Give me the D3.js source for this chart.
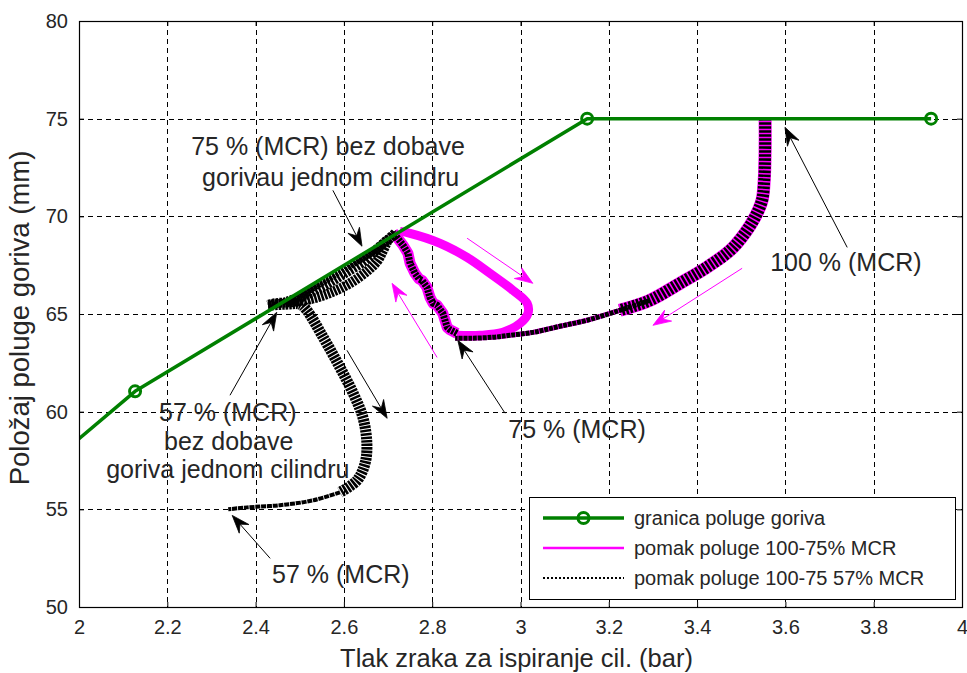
<!DOCTYPE html>
<html><head><meta charset="utf-8">
<script src="https://cdn.jsdelivr.net/npm/d3@7"></script>
<style>
body{margin:0;background:#fff}
svg{display:block}
text{font-family:"Liberation Sans",Arial,Helvetica,sans-serif}
</style>
</head><body>
<svg id="chart" width="967" height="673"></svg>
<script>
// ---------------- DATA ----------------
const xTicks = [2, 2.2, 2.4, 2.6, 2.8, 3, 3.2, 3.4, 3.6, 3.8, 4];
const xTickLabels = ["2","2.2","2.4","2.6","2.8","3","3.2","3.4","3.6","3.8","4"];
const yTicks = [50, 55, 60, 65, 70, 75, 80];
const yTickLabels = ["50","55","60","65","70","75","80"];

// fuel lever limit (green)
const limitX = [1.9, 2.127, 3.151, 3.93];
const limitY = [56.7, 61.04, 75.0, 75.0];

// 100% -> 75% MCR (shared black/magenta), upper part
const curveA1X = [3.554, 3.554, 3.552, 3.547, 3.531, 3.508, 3.475, 3.422, 3.361, 3.293, 3.225];
const curveA1Y = [75.02, 73.38, 71.84, 70.82, 69.95, 69.13, 68.26, 67.39, 66.57, 65.70, 65.19];
// lower part, to 75% point
const curveA2X = [3.293, 3.225, 3.151, 3.089, 3.028, 2.976, 2.938, 2.886, 2.852];
const curveA2Y = [65.70, 65.19, 64.68, 64.37, 64.06, 63.91, 63.81, 63.76, 63.76];

// jagged rise from 75% point to peak
const jaggedX = [2.856, 2.840, 2.834, 2.824, 2.811, 2.802, 2.795, 2.788, 2.777, 2.770, 2.761, 2.750, 2.745, 2.734, 2.720, 2.711];
const jaggedY = [64.01, 64.20, 64.32, 65.04, 65.45, 65.55, 65.85, 66.37, 66.72, 66.80, 67.08, 67.59, 68.11, 68.52, 68.93, 69.18];

// magenta loop (peak -> apex -> back to 75%)
const loopX = [2.727, 2.750, 2.818, 2.879, 2.931, 2.983, 3.015, 3.017, 2.999, 2.960, 2.908, 2.856];
const loopY = [69.23, 69.13, 68.62, 67.90, 67.08, 66.21, 65.55, 65.04, 64.52, 64.06, 63.91, 63.91];

// black crescent (peak -> 57% without fuel to one cylinder)
const band1X = [2.716, 2.700, 2.689, 2.677, 2.655, 2.614, 2.569, 2.523, 2.478, 2.444, 2.428];
const band1Y = [69.13, 68.77, 68.26, 67.75, 67.24, 66.58, 66.08, 65.75, 65.60, 65.55, 65.45];
const band2X = [2.716, 2.690, 2.670, 2.625, 2.591, 2.546, 2.501, 2.467];
const band2Y = [69.10, 68.72, 68.24, 67.63, 67.16, 66.55, 65.93, 65.50];
const band3X = [2.716, 2.682, 2.648, 2.602, 2.557, 2.512, 2.467];
const band3Y = [69.10, 68.47, 67.75, 67.08, 66.47, 65.96, 65.60];

// 57% descent
const c57X = [2.428, 2.467, 2.501, 2.516, 2.553, 2.591, 2.621, 2.643, 2.652, 2.648, 2.630, 2.591];
const c57Y = [65.45, 65.50, 65.50, 65.19, 63.81, 62.27, 60.94, 59.71, 58.38, 57.36, 56.49, 55.87];
const tail57X = [2.591, 2.530, 2.455, 2.381, 2.338];
const tail57Y = [55.87, 55.46, 55.21, 55.10, 55.00];

// annotation arrows [x0,y0,x1(tip),y1(tip)]
const blackArrows = [
  [2.575, 71.33, 2.641, 68.47],
  [3.740, 68.41, 3.599, 74.56],
  [2.965, 59.92, 2.858, 63.65],
  [2.342, 60.84, 2.448, 65.09],
  [2.607, 63.14, 2.698, 59.66],
  [2.433, 52.49, 2.347, 54.69]
];
const magentaArrows = [
  [2.879, 68.88, 3.028, 66.57],
  [2.811, 62.78, 2.709, 66.57],
  [3.502, 67.34, 3.300, 64.42]
];

// annotation texts [x, y(baseline), text]
const notes = [
  [2.564, 73.12, "75 % (MCR) bez dobave"],
  [2.570, 71.54, "gorivau jednom cilindru"],
  [3.737, 67.19, "100 % (MCR)"],
  [3.128, 58.64, "75 % (MCR)"],
  [2.593, 51.21, "57 % (MCR)"],
  [2.337, 59.51, "57 % (MCR)"],
  [2.339, 58.02, "bez dobave"],
  [2.337, 56.59, "goriva jednom cilindru"]
];

const legendLabels = ["granica poluge goriva", "pomak poluge 100-75% MCR", "pomak poluge 100-75 57% MCR"];
const xLabel = "Tlak zraka za ispiranje cil. (bar)";
const yLabel = "Položaj poluge goriva (mm)";

// ---------------- DRAW ----------------
const svg = d3.select("#chart");
const L = 79, R = 962, T = 21, B = 607;
const x = d3.scaleLinear().domain([2, 4]).range([L, R]);
const y = d3.scaleLinear().domain([50, 80]).range([B, T]);
const GREEN = "#008000", MAG = "#ff00ff", TXT = "#262626";

svg.append("rect").attr("width", 967).attr("height", 673).attr("fill", "#fff");

svg.append("defs").append("clipPath").attr("id", "clip")
  .append("rect").attr("x", L).attr("y", T).attr("width", R - L).attr("height", B - T);

// grid
const grid = svg.append("g").attr("stroke", "#000").attr("stroke-width", 1).attr("stroke-dasharray", "5,4");
grid.selectAll(".gx").data(xTicks.slice(1, -1)).join("line")
  .attr("x1", d => Math.round(x(d)) + 0.5).attr("x2", d => Math.round(x(d)) + 0.5)
  .attr("y1", T).attr("y2", B);
grid.selectAll(".gy").data(yTicks.slice(1, -1)).join("line")
  .attr("y1", d => Math.round(y(d)) + 0.5).attr("y2", d => Math.round(y(d)) + 0.5)
  .attr("x1", L).attr("x2", R);

const plot = svg.append("g").attr("clip-path", "url(#clip)");
const pts = (xs, ys) => xs.map((v, i) => [v, ys[i]]);
const smooth = d3.line().x(d => x(d[0])).y(d => y(d[1])).curve(d3.curveCatmullRom.alpha(0.5));
const straight = d3.line().x(d => x(d[0])).y(d => y(d[1]));

function path(g, gen, data, color, width, dash) {
  const p = g.append("path").attr("d", gen(data)).attr("fill", "none")
    .attr("stroke", color).attr("stroke-width", width).attr("stroke-linejoin", "round");
  if (dash) p.attr("stroke-dasharray", dash);
  return p;
}

// magenta series
path(plot, smooth, pts(loopX, loopY), MAG, 9);
path(plot, smooth, pts(curveA1X, curveA1Y), MAG, 13);
path(plot, smooth, pts(curveA2X, curveA2Y), MAG, 5);
path(plot, straight, pts(jaggedX, jaggedY), MAG, 11);

// black series (dotted, overlapping)
path(plot, smooth, pts(curveA1X, curveA1Y), "#000", 12, "2.5,1.5");
path(plot, smooth, pts(curveA2X, curveA2Y), "#000", 5, "4,0.8");
path(plot, straight, pts(jaggedX, jaggedY), "#000", 7, "2.5,1");
path(plot, smooth, pts(band1X, band1Y), "#000", 10, "2.5,1");
path(plot, smooth, pts(band3X, band3Y), "#000", 10, "2.5,1.2");
path(plot, smooth, pts(band2X, band2Y), "#000", 7, "2.5,1");
path(plot, smooth, pts(c57X, c57Y), "#000", 11, "2.5,1");
path(plot, smooth, pts(tail57X, tail57Y), "#000", 4, "5,0.8");

// green limit line
path(plot, straight, pts(limitX, limitY), GREEN, 3.5);
plot.selectAll(".mk").data(pts(limitX, limitY)).join("circle")
  .attr("cx", d => x(d[0])).attr("cy", d => y(d[1])).attr("r", 5.5)
  .attr("fill", "none").attr("stroke", GREEN).attr("stroke-width", 3);

// arrows
function arrow(a, color, len, half) {
  const x0 = x(a[0]), y0 = y(a[1]), x1 = x(a[2]), y1 = y(a[3]);
  const dx = x1 - x0, dy = y1 - y0, d = Math.hypot(dx, dy);
  const ux = dx / d, uy = dy / d, nx = -uy, ny = ux;
  const bx = x1 - ux * len, by = y1 - uy * len;
  const kx = x1 - ux * len * 0.65, ky = y1 - uy * len * 0.65;
  svg.append("line").attr("x1", x0).attr("y1", y0).attr("x2", kx).attr("y2", ky)
    .attr("stroke", color).attr("stroke-width", 1);
  svg.append("path").attr("d", `M${x1},${y1}L${bx + nx * half},${by + ny * half}L${kx},${ky}L${bx - nx * half},${by - ny * half}Z`)
    .attr("fill", color).attr("stroke", color).attr("stroke-width", 0.8);
}
blackArrows.forEach(a => arrow(a, "#000", 18, 6.5));
magentaArrows.forEach(a => arrow(a, MAG, 18, 6.5));

// annotation texts
svg.append("g").selectAll("text").data(notes).join("text")
  .attr("x", d => x(d[0])).attr("y", d => y(d[1]))
  .attr("text-anchor", "middle").attr("font-size", 25).attr("fill", TXT)
  .text(d => d[2]);

// axes with inward ticks
const fontSz = 20;
const ax = svg.append("g").attr("transform", `translate(0,${B})`)
  .call(d3.axisBottom(x).tickValues(xTicks).tickFormat((d, i) => xTickLabels[i]).tickSize(-5).tickPadding(13));
const ay = svg.append("g").attr("transform", `translate(${L},0)`)
  .call(d3.axisLeft(y).tickValues(yTicks).tickFormat((d, i) => yTickLabels[i]).tickSize(-5).tickPadding(11));
const at = svg.append("g").attr("transform", `translate(0,${T})`)
  .call(d3.axisTop(x).tickValues(xTicks).tickFormat("").tickSize(-5));
const ar = svg.append("g").attr("transform", `translate(${R},0)`)
  .call(d3.axisRight(y).tickValues(yTicks).tickFormat("").tickSize(-5));
[ax, ay, at, ar].forEach(g => {
  g.selectAll(".domain").remove();
  g.selectAll(".tick line").attr("stroke", "#000");
  g.selectAll("text").attr("font-size", fontSz).attr("fill", TXT)
    .attr("font-family", "'Liberation Sans', Arial, sans-serif");
});
svg.append("rect").attr("x", L + 0.5).attr("y", T + 0.5).attr("width", R - L).attr("height", B - T)
  .attr("fill", "none").attr("stroke", "#000").attr("stroke-width", 1.2);

// axis labels
svg.append("text").attr("x", (L + R) / 2 - 4).attr("y", 667).attr("text-anchor", "middle")
  .attr("font-size", 25.5).attr("fill", TXT).text(xLabel);
svg.append("text").attr("transform", `translate(29,${(T + B) / 2 + 4}) rotate(-90)`).attr("text-anchor", "middle")
  .attr("font-size", 27.5).attr("fill", TXT).text(yLabel);

// legend
const lg = svg.append("g");
lg.append("rect").attr("x", 529.5).attr("y", 497.5).attr("width", 426).attr("height", 102)
  .attr("fill", "#fff").attr("stroke", "#000").attr("stroke-width", 1);
const rows = [518, 548, 578];
lg.append("line").attr("x1", 543).attr("x2", 624).attr("y1", rows[0]).attr("y2", rows[0])
  .attr("stroke", GREEN).attr("stroke-width", 3.5);
lg.append("circle").attr("cx", 583.5).attr("cy", rows[0]).attr("r", 5.5)
  .attr("fill", "none").attr("stroke", GREEN).attr("stroke-width", 3);
lg.append("line").attr("x1", 543).attr("x2", 624).attr("y1", rows[1]).attr("y2", rows[1])
  .attr("stroke", MAG).attr("stroke-width", 2.5);
lg.append("line").attr("x1", 543).attr("x2", 624).attr("y1", rows[2]).attr("y2", rows[2])
  .attr("stroke", "#000").attr("stroke-width", 2).attr("stroke-dasharray", "2,2");
lg.selectAll(".lt").data(legendLabels).join("text")
  .attr("x", 634).attr("y", (d, i) => rows[i]).attr("dy", "0.35em")
  .attr("font-size", 20).attr("fill", TXT).text(d => d);
</script>
</body></html>
